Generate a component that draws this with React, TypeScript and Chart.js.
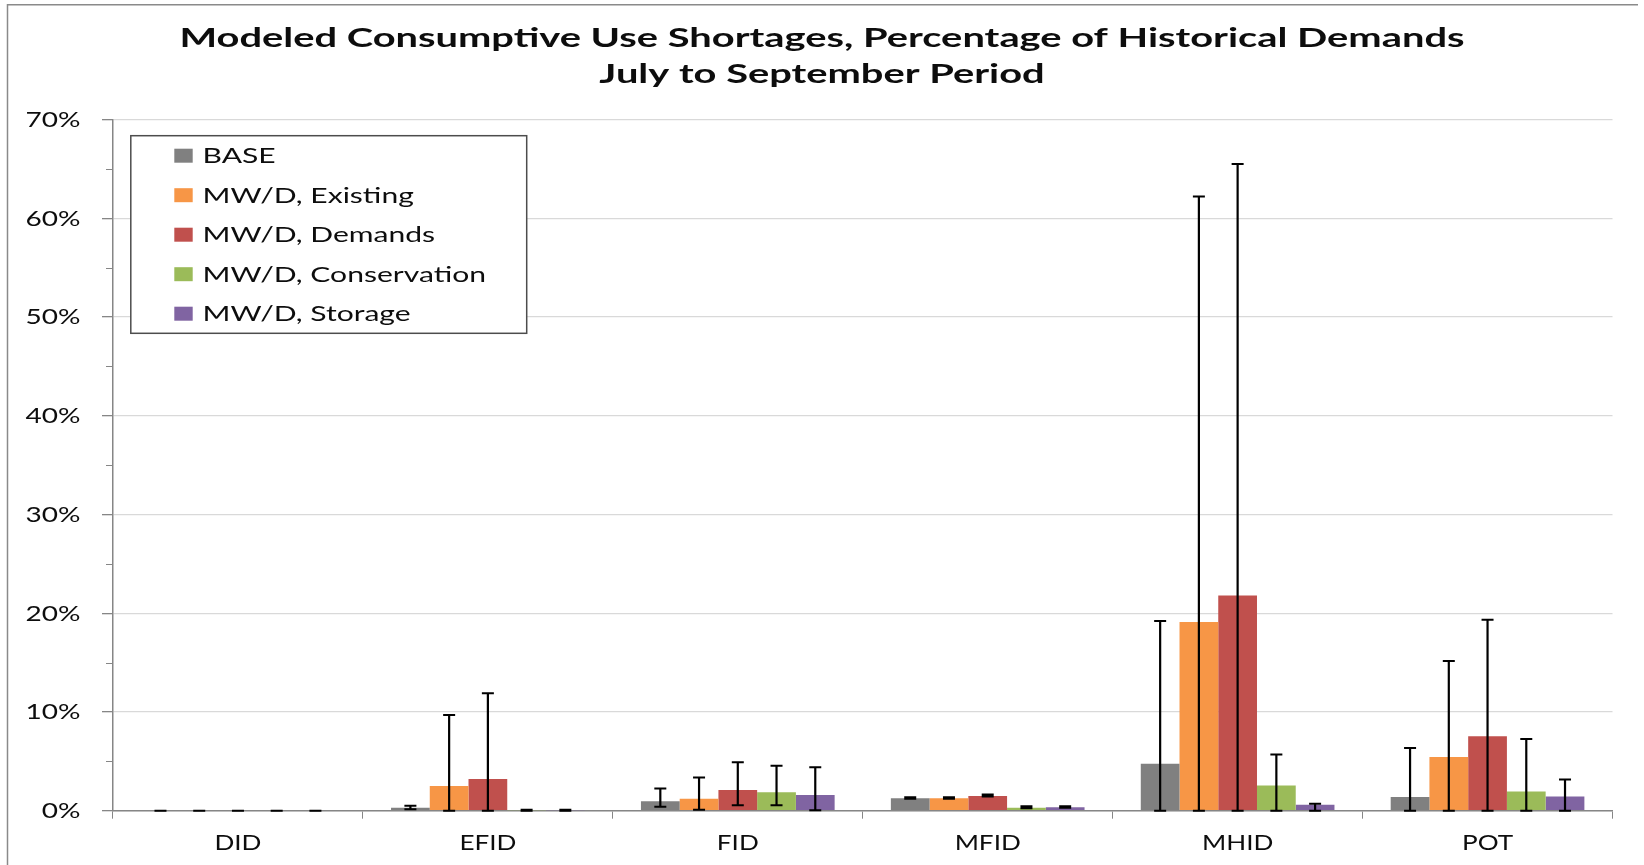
import React, { useEffect, useRef } from "react";
import { Chart, registerables } from "chart.js";

Chart.register(...registerables);

// ---- Data (percent of historical demands) ----
const categories = ["DID", "EFID", "FID", "MFID", "MHID", "POT"];

const seriesNames = [
  "BASE",
  "MW/D, Existing",
  "MW/D, Demands",
  "MW/D, Conservation",
  "MW/D, Storage",
];
const seriesColors = ["#808080", "#F79646", "#C0504D", "#9BBB59", "#8064A2"];

const baseValues = [0, 0.3, 0.95, 1.25, 4.75, 1.4];
const existingValues = [0, 2.5, 1.2, 1.25, 19.1, 5.45];
const demandsValues = [0, 3.2, 2.1, 1.5, 21.8, 7.55];
const conservationValues = [0, 0.05, 1.87, 0.3, 2.55, 1.95];
const storageValues = [0, 0.05, 1.6, 0.35, 0.6, 1.45];

// Range (min / max) of each modeled result, drawn as error bars
const baseLow = [0, 0.15, 0.4, 1.2, 0, 0];
const baseHigh = [0, 0.5, 2.25, 1.35, 19.2, 6.35];
const existingLow = [0, 0, 0.1, 1.2, 0, 0];
const existingHigh = [0, 9.7, 3.35, 1.35, 62.2, 15.15];
const demandsLow = [0, 0, 0.55, 1.45, 0, 0];
const demandsHigh = [0, 11.9, 4.9, 1.65, 65.5, 19.35];
const conservationLow = [0, 0, 0.55, 0.25, 0, 0];
const conservationHigh = [0, 0.1, 4.55, 0.45, 5.7, 7.25];
const storageLow = [0, 0, 0.05, 0.3, 0, 0];
const storageHigh = [0, 0.1, 4.4, 0.45, 0.7, 3.15];

const yMax = 70;
const yMinorStep = 5;
const yTickValues = [0, 10, 20, 30, 40, 50, 60, 70];

const titleLines = [
  "Modeled Consumptive Use Shortages, Percentage of Historical Demands",
  "July to September Period",
];

const seriesValues = [
  baseValues,
  existingValues,
  demandsValues,
  conservationValues,
  storageValues,
];
const seriesRanges = [
  [baseLow, baseHigh],
  [existingLow, existingHigh],
  [demandsLow, demandsHigh],
  [conservationLow, conservationHigh],
  [storageLow, storageHigh],
];

// ---- Layout ----
const W = 1644;
const H = 865;
const PLOT_LEFT = 113;
const PLOT_TOP = 119.5;
const PLOT_RIGHT = 1612.5;
const PLOT_BOTTOM = 810.7;

const AXIS_COLOR = "#868686";
const GRID_COLOR = "#d9d9d9";
const TEXT_COLOR = "#0d0d0d";
const FONT = "Lato";

// Text is drawn slightly widened; these widths calibrate the stretch per group
const TITLE_WIDTH = 1285;
const LEGEND_REF_WIDTH = 283.5; // "MW/D, Conservation"
const YTICK_REF_WIDTH = 55; // "70%"
const XTICK_REF_WIDTH = 57; // "EFID"

function stretchFor(ctx: CanvasRenderingContext2D, font: string, text: string, target: number) {
  ctx.save();
  ctx.font = font;
  const w = ctx.measureText(text).width;
  ctx.restore();
  return w > 0 ? target / w : 1;
}

function drawText(
  ctx: CanvasRenderingContext2D,
  text: string,
  x: number,
  y: number,
  font: string,
  align: CanvasTextAlign,
  sx: number
) {
  ctx.save();
  ctx.font = font;
  ctx.fillStyle = TEXT_COLOR;
  ctx.textAlign = align;
  ctx.textBaseline = "alphabetic";
  ctx.translate(x, y);
  ctx.scale(sx, 1);
  ctx.fillText(text, 0, 0);
  ctx.restore();
}

const framePlugin = {
  id: "frame",
  beforeDraw(chart: any) {
    const ctx = chart.ctx as CanvasRenderingContext2D;
    ctx.save();
    ctx.fillStyle = "#ffffff";
    ctx.fillRect(0, 0, chart.width, chart.height);
    ctx.strokeStyle = "#8a8a8a";
    ctx.lineWidth = 1.5;
    ctx.beginPath();
    ctx.moveTo(7.5, H + 2);
    ctx.lineTo(7.5, 4.75);
    ctx.lineTo(1638, 4.75);
    ctx.stroke();
    ctx.restore();
  },
};

const errorBarPlugin = {
  id: "errorBars",
  afterDatasetsDraw(chart: any) {
    const ctx = chart.ctx as CanvasRenderingContext2D;
    const y = chart.scales.y;
    // minor tick marks on the value axis
    ctx.save();
    ctx.strokeStyle = AXIS_COLOR;
    ctx.lineWidth = 1;
    for (let v = yMinorStep; v < yMax; v += 2 * yMinorStep) {
      const py = Math.round(y.getPixelForValue(v)) + 0.5;
      ctx.beginPath();
      ctx.moveTo(chart.chartArea.left - 7, py);
      ctx.lineTo(chart.chartArea.left, py);
      ctx.stroke();
    }
    ctx.restore();

    ctx.save();
    ctx.strokeStyle = "#000000";
    chart.data.datasets.forEach((_ds: any, i: number) => {
      const meta = chart.getDatasetMeta(i);
      const [low, high] = seriesRanges[i];
      meta.data.forEach((bar: any, j: number) => {
        const x = bar.x;
        const yl = y.getPixelForValue(low[j]);
        const yh = y.getPixelForValue(high[j]);
        const cap = 6;
        ctx.lineWidth = 2.2;
        ctx.beginPath();
        ctx.moveTo(x, yl);
        ctx.lineTo(x, yh);
        ctx.stroke();
        ctx.lineWidth = 2;
        ctx.beginPath();
        ctx.moveTo(x - cap, yh);
        ctx.lineTo(x + cap, yh);
        ctx.moveTo(x - cap, yl);
        ctx.lineTo(x + cap, yl);
        ctx.stroke();
      });
    });
    ctx.restore();
  },
};

const textPlugin = {
  id: "texts",
  afterDraw(chart: any) {
    const ctx = chart.ctx as CanvasRenderingContext2D;
    const cx = chart.width / 2;

    // Title
    const titleFont = `bold 26px ${FONT}`;
    const tsx = stretchFor(ctx, titleFont, titleLines[0], TITLE_WIDTH);
    drawText(ctx, titleLines[0], cx, 46.7, titleFont, "center", tsx);
    drawText(ctx, titleLines[1], cx, 83, titleFont, "center", tsx);

    // Value axis labels
    const tickFont = `21px ${FONT}`;
    const ysx = stretchFor(ctx, tickFont, "70%", YTICK_REF_WIDTH);
    const yScale = chart.scales.y;
    yTickValues.forEach((v) => {
      const py = yScale.getPixelForValue(v);
      drawText(ctx, `${v}%`, 80.5, py + 7.5, tickFont, "right", ysx);
    });

    // Category labels
    const xsx = stretchFor(ctx, tickFont, "EFID", XTICK_REF_WIDTH);
    const xScale = chart.scales.x;
    chart.data.labels.forEach((lab: string, i: number) => {
      const px = xScale.getPixelForValue(i);
      drawText(ctx, lab, px, 850, tickFont, "center", xsx);
    });

    // Legend
    const lx = 130.8;
    const ly = 135.7;
    const lw = 395.9;
    const lh = 197.6;
    ctx.save();
    ctx.fillStyle = "#ffffff";
    ctx.fillRect(lx, ly, lw, lh);
    ctx.strokeStyle = "#4d4d4d";
    ctx.lineWidth = 1.5;
    ctx.strokeRect(lx, ly, lw, lh);
    ctx.restore();
    const legendFont = `21px ${FONT}`;
    const lsx = stretchFor(ctx, legendFont, "MW/D, Conservation", LEGEND_REF_WIDTH);
    chart.data.datasets.forEach((ds: any, i: number) => {
      const rowMid = 155.7 + i * 39.5;
      ctx.save();
      ctx.fillStyle = ds.backgroundColor;
      ctx.fillRect(174.3, rowMid - 7, 18.4, 14);
      ctx.restore();
      drawText(ctx, ds.label, 202.5, rowMid + 7.5, legendFont, "left", lsx);
    });
  },
};

export default function App() {
  const canvasRef = useRef<HTMLCanvasElement | null>(null);

  useEffect(() => {
    const canvas = canvasRef.current;
    if (!canvas) return;

    const chart = new Chart(canvas, {
      type: "bar",
      data: {
        labels: categories,
        datasets: seriesNames.map((name, i) => ({
          label: name,
          data: seriesValues[i],
          backgroundColor: seriesColors[i],
          borderWidth: 0,
          categoryPercentage: 0.775,
          barPercentage: 1.0,
        })),
      },
      options: {
        responsive: false,
        animation: false,
        devicePixelRatio: 1,
        layout: {
          padding: { left: 0, top: PLOT_TOP, right: W - PLOT_RIGHT, bottom: 0 },
        },
        plugins: {
          legend: { display: false },
          title: { display: false },
          tooltip: { enabled: false },
        },
        scales: {
          x: {
            offset: true,
            ticks: { display: false },
            grid: {
              drawOnChartArea: false,
              offset: true,
              drawTicks: true,
              tickLength: 8,
              color: AXIS_COLOR,
              lineWidth: 1,
            },
            border: { color: AXIS_COLOR, width: 1.5 },
            afterFit: (s: any) => {
              s.height = H - PLOT_BOTTOM;
            },
          },
          y: {
            min: 0,
            max: yMax,
            ticks: { display: false, stepSize: yMinorStep },
            grid: {
              color: (c: any) =>
                c.tick && c.tick.value % 10 === 0 ? GRID_COLOR : "rgba(0,0,0,0)",
              tickColor: (c: any) =>
                c.tick && c.tick.value % 10 === 0 ? AXIS_COLOR : "rgba(0,0,0,0)",
              lineWidth: 1.3,
              drawTicks: true,
              tickLength: 11,
            },
            border: { color: AXIS_COLOR, width: 1.5 },
            afterFit: (s: any) => {
              s.width = PLOT_LEFT;
            },
          },
        },
      },
      plugins: [framePlugin, errorBarPlugin, textPlugin],
    });

    return () => chart.destroy();
  }, []);

  return (
    <div style={{ position: "fixed", left: 0, top: 0, width: W, height: H, background: "#fff" }}>
      <canvas ref={canvasRef} width={W} height={H} style={{ display: "block", width: W, height: H }} />
    </div>
  );
}
